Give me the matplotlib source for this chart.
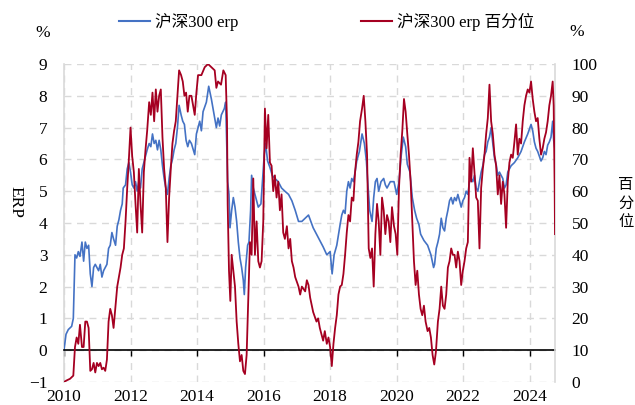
import matplotlib
matplotlib.use('Agg')
import matplotlib.pyplot as plt
from matplotlib.lines import Line2D

# ---- data (decimal year, value) ----
erp_t = [2010.00, 2010.06, 2010.13, 2010.23, 2010.28, 2010.33, 2010.38, 2010.43, 2010.48, 2010.54,
         2010.59, 2010.64, 2010.69, 2010.74, 2010.79, 2010.84, 2010.89, 2010.94, 2010.99, 2011.04,
         2011.09, 2011.14, 2011.19, 2011.24, 2011.29, 2011.34, 2011.39, 2011.44, 2011.49, 2011.55,
         2011.60, 2011.65, 2011.70, 2011.75, 2011.78, 2011.85, 2011.90, 2011.95, 2012.00, 2012.05,
         2012.10, 2012.15, 2012.20, 2012.25, 2012.30, 2012.35, 2012.40, 2012.45, 2012.50, 2012.56,
         2012.61, 2012.66, 2012.71, 2012.76, 2012.81, 2012.86, 2012.91, 2012.96, 2013.01, 2013.06,
         2013.11, 2013.16, 2013.21, 2013.26, 2013.31, 2013.36, 2013.41, 2013.46, 2013.52, 2013.57,
         2013.62, 2013.67, 2013.72, 2013.77, 2013.83, 2013.93, 2013.98, 2014.08, 2014.13, 2014.18,
         2014.28, 2014.35, 2014.43, 2014.48, 2014.58, 2014.63, 2014.68, 2014.73, 2014.82, 2014.86,
         2014.89, 2014.92, 2014.96, 2014.99, 2015.04, 2015.09, 2015.14, 2015.19, 2015.24, 2015.29,
         2015.34, 2015.39, 2015.42, 2015.46, 2015.52, 2015.56, 2015.61, 2015.64, 2015.69, 2015.74,
         2015.79, 2015.84, 2015.92, 2015.96, 2016.02, 2016.06, 2016.12, 2016.19, 2016.26, 2016.34,
         2016.44, 2016.54, 2016.64, 2016.75, 2016.85, 2016.95, 2017.05, 2017.15, 2017.25, 2017.35,
         2017.49, 2017.59, 2017.69, 2017.79, 2017.90, 2018.00, 2018.06, 2018.12, 2018.20, 2018.30,
         2018.35, 2018.40, 2018.45, 2018.50, 2018.55, 2018.60, 2018.65, 2018.70, 2018.75, 2018.80,
         2018.88, 2018.96, 2019.03, 2019.09, 2019.13, 2019.19, 2019.26, 2019.31, 2019.36, 2019.41,
         2019.46, 2019.53, 2019.61, 2019.66, 2019.71, 2019.81, 2019.92, 2020.00, 2020.07, 2020.14,
         2020.20, 2020.27, 2020.32, 2020.40, 2020.47, 2020.54, 2020.60, 2020.67, 2020.72, 2020.82,
         2020.93, 2021.03, 2021.11, 2021.14, 2021.19, 2021.24, 2021.29, 2021.34, 2021.39, 2021.44,
         2021.49, 2021.54, 2021.59, 2021.64, 2021.69, 2021.74, 2021.79, 2021.84, 2021.89, 2021.94,
         2021.99, 2022.04, 2022.09, 2022.14, 2022.19, 2022.24, 2022.29, 2022.34, 2022.39, 2022.44,
         2022.49, 2022.54, 2022.59, 2022.64, 2022.69, 2022.74, 2022.79, 2022.84, 2022.89, 2022.94,
         2022.99, 2023.04, 2023.09, 2023.14, 2023.19, 2023.24, 2023.29, 2023.34, 2023.39, 2023.44,
         2023.54, 2023.64, 2023.74, 2023.84, 2023.94, 2024.04, 2024.09, 2024.14, 2024.19, 2024.24,
         2024.34, 2024.39, 2024.44, 2024.49, 2024.54, 2024.59, 2024.64, 2024.69, 2024.72, 2024.76]
erp_v = [0.0, 0.5, 0.65, 0.75, 1.0, 3.0, 2.9, 3.1, 2.95, 3.4,
         2.8, 3.4, 3.2, 3.3, 2.4, 2.0, 2.6, 2.7, 2.6, 2.5,
         2.7, 2.3, 2.5, 2.6, 2.7, 3.2, 3.3, 3.7, 3.5, 3.3,
         3.9, 4.1, 4.4, 4.6, 5.1, 5.2, 5.7, 5.9, 5.6, 5.2,
         5.1, 5.3, 5.0, 5.3, 5.1, 5.7, 5.9, 6.1, 6.3, 6.5,
         6.4, 6.8, 6.5, 6.6, 6.3, 6.6, 6.3, 5.8, 5.4, 5.1,
         4.9, 5.4, 5.8, 6.0, 6.3, 6.5, 7.0, 7.7, 7.4, 7.2,
         7.1, 6.6, 6.4, 6.6, 6.5, 6.15, 6.8, 7.2, 6.9, 7.5,
         7.8, 8.3, 7.9, 7.6, 7.0, 7.3, 7.05, 7.4, 7.6, 7.8,
         6.5, 5.3, 4.9, 3.85, 4.4, 4.8, 4.5, 4.05, 3.4, 2.9,
         2.6, 2.2, 1.75, 2.6, 3.3, 3.4, 4.4, 5.5, 5.1, 4.9,
         4.7, 4.5, 4.6, 5.2, 6.15, 6.5, 5.95, 5.75, 5.5, 5.4,
         5.3, 5.1, 5.0, 4.9, 4.7, 4.4, 4.05, 4.05, 4.15, 4.25,
         3.85, 3.65, 3.45, 3.25, 3.0, 3.1, 2.4, 3.0, 3.3, 3.95,
         4.25, 4.4, 4.3, 5.0, 5.3, 5.1, 5.4, 5.3, 5.6, 5.95,
         6.25, 6.8, 6.5, 5.95, 5.3, 4.4, 4.05, 4.8, 5.3, 5.4,
         5.0, 5.3, 5.4, 5.2, 5.1, 5.3, 5.3, 4.9, 5.3, 6.15,
         6.7, 6.4, 5.85, 5.6, 4.8, 4.4, 4.15, 3.95, 3.65, 3.45,
         3.3, 3.0, 2.6, 2.7, 3.2, 3.4, 3.65, 4.15, 3.85, 3.75,
         4.15, 4.4, 4.7, 4.8, 4.6, 4.8, 4.7, 4.9, 4.7, 4.5,
         4.7, 4.8, 5.0, 4.9, 5.3, 5.4, 5.3, 5.5, 5.1, 5.0,
         5.3, 5.6, 5.8, 6.15, 6.25, 6.55, 6.7, 7.0, 6.5, 6.05,
         5.85, 5.5, 5.6, 5.5, 5.4, 5.1, 5.2, 5.6, 5.7, 5.8,
         5.9, 6.05, 6.25, 6.55, 6.8, 7.1, 6.9, 6.55, 6.35, 6.25,
         5.95, 6.05, 6.25, 6.15, 6.45, 6.55, 6.7, 7.2, 6.6, 6.3]

pct_t = [2010.00, 2010.08, 2010.18, 2010.23, 2010.28, 2010.33, 2010.38, 2010.43, 2010.48, 2010.54,
         2010.59, 2010.64, 2010.69, 2010.74, 2010.79, 2010.84, 2010.89, 2010.94, 2010.99, 2011.04,
         2011.09, 2011.14, 2011.19, 2011.24, 2011.29, 2011.34, 2011.39, 2011.44, 2011.49, 2011.55,
         2011.60, 2011.65, 2011.70, 2011.75, 2011.80, 2011.85, 2011.90, 2011.95, 2012.00, 2012.05,
         2012.10, 2012.15, 2012.20, 2012.25, 2012.30, 2012.35, 2012.40, 2012.45, 2012.50, 2012.56,
         2012.61, 2012.66, 2012.71, 2012.76, 2012.81, 2012.86, 2012.91, 2012.96, 2013.01, 2013.06,
         2013.11, 2013.16, 2013.21, 2013.26, 2013.31, 2013.36, 2013.41, 2013.46, 2013.52, 2013.57,
         2013.62, 2013.67, 2013.72, 2013.77, 2013.83, 2013.93, 2013.98, 2014.03, 2014.13, 2014.23,
         2014.33, 2014.43, 2014.53, 2014.58, 2014.63, 2014.72, 2014.79, 2014.86, 2014.90, 2014.92,
         2014.96, 2015.00, 2015.04, 2015.09, 2015.14, 2015.19, 2015.24, 2015.29, 2015.34, 2015.39,
         2015.44, 2015.49, 2015.54, 2015.59, 2015.64, 2015.69, 2015.74, 2015.79, 2015.84, 2015.89,
         2015.94, 2015.99, 2016.04, 2016.09, 2016.14, 2016.19, 2016.24, 2016.29, 2016.34, 2016.39,
         2016.44, 2016.49, 2016.54, 2016.59, 2016.64, 2016.70, 2016.75, 2016.80, 2016.85, 2016.90,
         2016.95, 2017.05, 2017.10, 2017.15, 2017.25, 2017.30, 2017.35, 2017.40, 2017.49, 2017.59,
         2017.64, 2017.69, 2017.79, 2017.84, 2017.90, 2017.95, 2018.00, 2018.05, 2018.10, 2018.15,
         2018.20, 2018.25, 2018.30, 2018.35, 2018.40, 2018.45, 2018.50, 2018.55, 2018.60, 2018.65,
         2018.70, 2018.75, 2018.80, 2018.85, 2018.90, 2018.96, 2019.01, 2019.06, 2019.11, 2019.16,
         2019.21, 2019.26, 2019.31, 2019.36, 2019.41, 2019.46, 2019.51, 2019.56, 2019.61, 2019.66,
         2019.71, 2019.76, 2019.81, 2019.86, 2019.92, 2019.97, 2020.02, 2020.07, 2020.12, 2020.17,
         2020.22, 2020.27, 2020.32, 2020.37, 2020.42, 2020.47, 2020.52, 2020.57, 2020.62, 2020.67,
         2020.72, 2020.77, 2020.82, 2020.87, 2020.93, 2020.98, 2021.03, 2021.08, 2021.13, 2021.18,
         2021.24, 2021.29, 2021.34, 2021.39, 2021.44, 2021.49, 2021.54, 2021.59, 2021.64, 2021.69,
         2021.74, 2021.79, 2021.84, 2021.89, 2021.94, 2021.99, 2022.04, 2022.09, 2022.14, 2022.19,
         2022.24, 2022.29, 2022.34, 2022.39, 2022.44, 2022.49, 2022.54, 2022.59, 2022.64, 2022.69,
         2022.74, 2022.79, 2022.84, 2022.89, 2022.94, 2022.99, 2023.04, 2023.09, 2023.14, 2023.19,
         2023.24, 2023.29, 2023.34, 2023.39, 2023.44, 2023.49, 2023.54, 2023.59, 2023.64, 2023.69,
         2023.74, 2023.79, 2023.84, 2023.89, 2023.94, 2023.99, 2024.04, 2024.09, 2024.14, 2024.19,
         2024.24, 2024.29, 2024.34, 2024.39, 2024.44, 2024.49, 2024.54, 2024.59, 2024.64, 2024.69,
         2024.72, 2024.75, 2024.76]
pct_v = [0, 0.5, 1.0, 1.5, 2, 11, 14, 12, 18, 11,
         11, 19, 19, 17, 3.5, 4, 6, 3, 6, 5,
         6, 4, 4.5, 3.5, 7, 19, 23, 21, 17, 24,
         30, 33, 36, 40, 42, 50.5, 61, 70, 80, 71,
         66, 56, 47, 67, 56, 47, 66, 73, 79, 88,
         84, 91, 82, 92, 85, 90, 92, 77, 67, 61,
         44, 58, 67, 75, 79, 82, 90, 98, 96.5, 94.5,
         90, 91, 85, 90, 90, 84, 91, 96.5, 96.5, 99,
         100, 99, 98, 92.5, 94.5, 93.5, 98, 96.5, 82, 56,
         35, 25.5, 40, 35, 30, 19, 12, 6.5, 8.5, 3.5,
         2.5, 8.5, 26.5, 44, 40, 64, 40, 50.5, 38, 36,
         38, 50.5, 86, 73.5, 84, 69, 68, 60, 65, 58,
         63, 54, 59, 47, 45, 49, 42, 45, 38, 36,
         33, 30, 27.5, 30, 28.5, 32, 30.5, 26.5, 22, 19,
         20, 17, 13, 16, 12, 14, 11, 5, 12, 17,
         21, 27.5, 30, 30.5, 34, 40, 47, 52.5, 50.5, 58,
         57, 66, 71.5, 75.5, 82, 86, 90, 82, 71.5, 42,
         39, 42, 30, 46.5, 56, 50.5, 40, 58, 54, 46.5,
         52.5, 50.5, 44, 55, 49, 46.5, 40, 61, 71.5, 79,
         89, 85, 78, 71.5, 63, 50.5, 38, 30.5, 35, 27.5,
         23, 21, 24, 19, 16, 17, 14, 8.5, 5.5, 9.5,
         19, 23, 30, 24, 23, 27.5, 36, 38, 42, 40,
         40, 36, 41, 38, 30.5, 35, 38, 42, 44, 70.5,
         63, 73.5, 66, 58, 57, 42, 61, 67, 71.5, 78,
         83, 93.5, 82, 78, 71.5, 68, 59, 65, 56, 63,
         59, 48.5, 63, 69, 71.5, 70.5, 75.5, 81, 71.5, 76.5,
         75, 82, 87, 90, 92, 91, 94.5, 89, 85, 82,
         83, 76.5, 71.5, 73.5, 76.5, 78.5, 82, 87, 90, 94.5,
         87, 61, 46.5]

years = [2010, 2012, 2014, 2016, 2018, 2020, 2022, 2024]
left_ticks = list(range(-1, 10))
right_ticks = list(range(0, 101, 10))

BLUE = '#4472C4'
RED = '#A50021'
GRID = '#D9D9D9'
FONTS = ['Liberation Serif', 'Noto Sans CJK SC']

plt.rcParams['font.family'] = FONTS
plt.rcParams['font.size'] = 12.5

fig = plt.figure(figsize=(6.35, 4.05), dpi=100)
ax = fig.add_axes([64 / 635, 1 - 382 / 405, 491 / 635, 318 / 405])
ax2 = ax.twinx()

ax.plot(erp_t, erp_v, color=BLUE, linewidth=1.2, zorder=3)
ax2.plot(pct_t, pct_v, color=RED, linewidth=1.3, zorder=3)

ax.set_xlim(2010, 2024.76)
ax.set_ylim(-1, 9)
ax2.set_ylim(0, 100)

# grid
ax.set_yticks(left_ticks)
ax.set_xticks(years)
ax.grid(True, color=GRID, linestyle=(0, (5, 4)), linewidth=1.0)
ax.set_axisbelow(True)

# spines
ax.spines['top'].set_visible(False)
ax2.spines['top'].set_visible(False)
ax2.spines['bottom'].set_visible(False)
ax2.spines['left'].set_visible(False)
ax.spines['left'].set_color(GRID)
ax.spines['left'].set_linewidth(1.2)
ax2.spines['right'].set_color(GRID)
ax2.spines['right'].set_linewidth(1.2)
ax.spines['right'].set_visible(False)

# black zero line carries the year tick marks
ax.spines['bottom'].set_position(('data', 0))
ax.spines['bottom'].set_color('black')
ax.spines['bottom'].set_linewidth(1.2)
ax.spines['bottom'].set_zorder(4)
ax.tick_params(axis='x', direction='out', length=4, width=1, color='black', labelbottom=False)
ax.tick_params(axis='y', length=0, pad=12)
ax2.tick_params(axis='y', length=0, pad=12)
ax2.set_yticks(right_ticks)

# year labels at the bottom edge
secx = ax.secondary_xaxis('bottom')
secx.set_xticks(years)
secx.spines['bottom'].set_visible(False)
secx.tick_params(length=0, pad=5)

# axis titles
fig.text(43 / 635, 1 - 33 / 405, '%', ha='center', va='center', fontsize=12.5)
fig.text(577 / 635, 1 - 32 / 405, '%', ha='center', va='center', fontsize=12.5)
fig.text(15 / 635, 1 - 202 / 405, 'ERP', ha='center', va='center', rotation=270, fontsize=12.5)
fig.text(626 / 635, 1 - 203 / 405, '百\n分\n位', ha='center', va='center', fontsize=11,
         linespacing=1.1, family=['Noto Sans CJK SC'])

# legend, two separate entries
lg1 = fig.legend([Line2D([], [], color=BLUE, linewidth=1.5)], ['沪深300 erp'],
                 loc='center left', bbox_to_anchor=(119 / 635, 1 - 22 / 405), frameon=False,
                 borderpad=0, borderaxespad=0, handlelength=1.85, handletextpad=0.3, fontsize=12)
lg2 = fig.legend([Line2D([], [], color=RED, linewidth=1.5)], ['沪深300 erp 百分位'],
                 loc='center left', bbox_to_anchor=(361 / 635, 1 - 22 / 405), frameon=False,
                 borderpad=0, borderaxespad=0, handlelength=1.85, handletextpad=0.3, fontsize=12)

fig.savefig('out.png', dpi=100)
